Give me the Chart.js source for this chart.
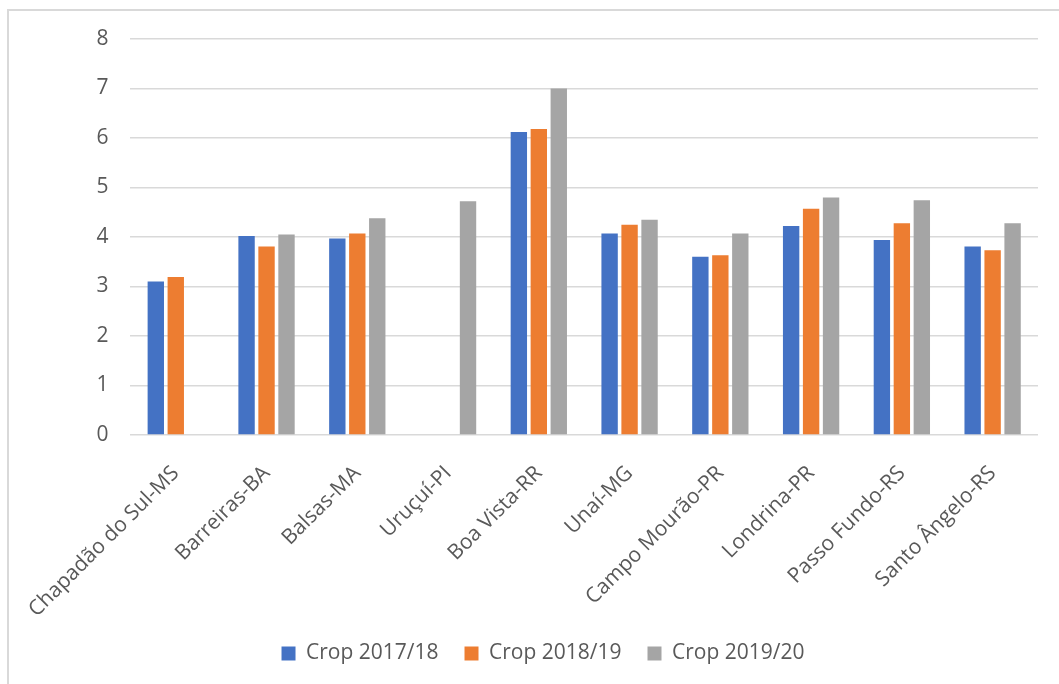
<!DOCTYPE html>
<html>
<head>
<meta charset="utf-8">
<script src="https://cdn.jsdelivr.net/npm/chart.js@4"></script>
<style>
  html, body { margin: 0; padding: 0; background: #fff; overflow: hidden; }
  #wrap { position: relative; width: 1059px; height: 684px; }
  /* light frame on the top and left edges */
  .frame {
    position: absolute; left: 7px; top: 9px; right: -10px; bottom: -10px;
    border-top: 2px solid #d9d9d9; border-left: 2px solid #d9d9d9;
  }
  canvas { position: absolute; left: 0; top: 0; }
</style>
</head>
<body>
<div id="wrap">
  <div class="frame"></div>
  <canvas id="chart" width="1059" height="684"></canvas>
</div>
<script>
// Sites and values per crop season
const sites = [
  'Chapadão do Sul-MS', 'Barreiras-BA', 'Balsas-MA', 'Uruçuí-PI', 'Boa Vista-RR',
  'Unaí-MG', 'Campo Mourão-PR', 'Londrina-PR', 'Passo Fundo-RS', 'Santo Ângelo-RS'
];
const crop1718 = [3.10, 4.02, 3.97, null, 6.12, 4.07, 3.60, 4.22, 3.94, 3.81];
const crop1819 = [3.19, 3.81, 4.07, null, 6.18, 4.25, 3.63, 4.57, 4.28, 3.73];
const crop1920 = [null, 4.05, 4.38, 4.72, 7.00, 4.35, 4.07, 4.80, 4.74, 4.28];
const seriesNames = ['Crop 2017/18', 'Crop 2018/19', 'Crop 2019/20'];
const yTicks = [0, 1, 2, 3, 4, 5, 6, 7, 8];

const colors = ['#4472C4', '#ED7D31', '#A5A5A5'];
const textColor = '#595959';
const fontFamily = "'Open Sans', 'Noto Sans', sans-serif";

const ctx = document.getElementById('chart');

new Chart(ctx, {
  type: 'bar',
  data: {
    labels: sites,
    datasets: [crop1718, crop1819, crop1920].map((values, i) => ({
      label: seriesNames[i],
      data: values,
      backgroundColor: colors[i],
      borderWidth: 0,
      barPercentage: 0.82,
      categoryPercentage: 0.66
    }))
  },
  options: {
    responsive: false,
    animation: false,
    devicePixelRatio: 1,
    // left padding centres the legend under the plot; y axis fills the rest
    layout: { padding: { left: 48, right: 21, top: 39, bottom: 10 } },
    plugins: {
      title: { display: false },
      tooltip: { enabled: false },
      legend: {
        position: 'bottom',
        labels: {
          color: textColor,
          font: { family: fontFamily, size: 21 },
          boxWidth: 14,
          boxHeight: 14,
          padding: 26
        }
      }
    },
    scales: {
      x: {
        grid: { display: false, drawTicks: false },
        border: { display: false },
        ticks: {
          color: textColor,
          font: { family: fontFamily, size: 21 },
          minRotation: 45,
          maxRotation: 45,
          autoSkip: false,
          padding: 26
        },
        afterFit: scale => { scale.height = 182; }
      },
      y: {
        min: 0,
        max: 8,
        afterBuildTicks: scale => { scale.ticks = yTicks.map(v => ({ value: v })); },
        grid: { color: '#d9d9d9', lineWidth: 1.5, drawTicks: false },
        border: { display: false },
        ticks: {
          color: textColor,
          font: { family: fontFamily, size: 21 },
          padding: 22
        },
        afterFit: scale => { scale.width = 81; }
      }
    }
  }
});
</script>
</body>
</html>
